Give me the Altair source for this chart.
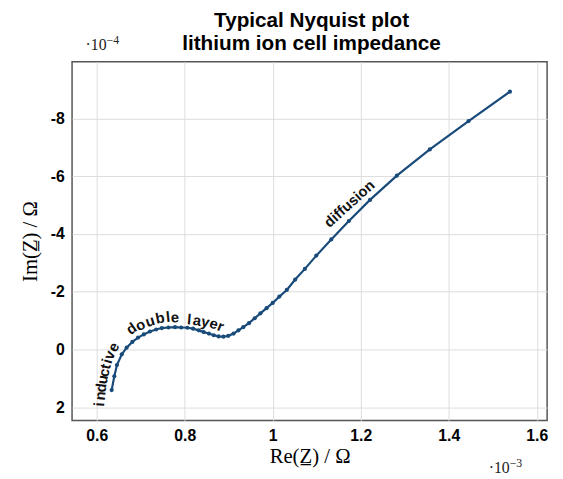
import altair as alt
import pandas as pd

# Nyquist data (Re in 1e-3 Ohm, Im in 1e-4 Ohm)
re_vals = [0.634, 0.640, 0.646, 0.657, 0.668, 0.681, 0.694, 0.707, 0.721, 0.735,
           0.748, 0.763, 0.778, 0.792, 0.806, 0.819, 0.832, 0.843, 0.855, 0.866,
           0.877, 0.888, 0.899, 0.911, 0.922, 0.933, 0.946, 0.959, 0.972, 0.986,
           1.000, 1.015, 1.032, 1.051, 1.073, 1.099, 1.133, 1.173, 1.221, 1.282,
           1.357, 1.445, 1.539]
im_vals = [1.41, 0.93, 0.54, 0.17, -0.06, -0.26, -0.41, -0.52, -0.62, -0.69,
           -0.74, -0.76, -0.77, -0.76, -0.75, -0.72, -0.66, -0.60, -0.55, -0.49,
           -0.45, -0.44, -0.47, -0.55, -0.66, -0.77, -0.91, -1.08, -1.25, -1.43,
           -1.61, -1.83, -2.06, -2.42, -2.79, -3.25, -3.81, -4.45, -5.18, -6.02,
           -6.93, -7.91, -8.93]

x_ticks = [0.6, 0.8, 1.0, 1.2, 1.4, 1.6]
y_ticks = [-8, -6, -4, -2, 0, 2]

title_lines = ["Typical Nyquist plot", "lithium ion cell impedance"]
exp_base = ["\u00b710", "\u00b710"]
exp_pow = ["\u22124", "\u22123"]

# curved annotation letters
ind_chars = list("inductive")
ind_x = [0.6056, 0.6078, 0.6101, 0.6134, 0.6168, 0.6202, 0.6235, 0.6291, 0.6381]
ind_y = [1.90, 1.61, 1.33, 1.05, 0.80, 0.59, 0.41, 0.20, -0.08]
ind_a = [-86, -85, -84, -82, -80, -77, -74, -68, -62]

dl_chars = list("double layer")
dl_x = [0.679, 0.699, 0.721, 0.744, 0.762, 0.778, 0.794, 0.810, 0.828, 0.847, 0.866, 0.882]
dl_y = [-0.72, -0.84, -0.98, -1.09, -1.13, -1.11, -1.07, -1.04, -1.00, -0.95, -0.89, -0.80]
dl_a = [-35, -27, -18, -11, -6, -2, 2, 5, 9, 13, 17, 21]

diff_text = ["diffusion"]
diff_x = [1.174]
diff_y = [-5.05]

LINE = "#184a7a"
df = pd.DataFrame({"re": re_vals, "im": im_vals, "i": list(range(len(re_vals)))})

xs = alt.Scale(domain=[0.544, 1.6235], nice=False, zero=False)
ys = alt.Scale(domain=[-9.97, 2.46], nice=False, zero=False, reverse=True)

x_axis = alt.Axis(values=x_ticks, title="Re(Z\u0332) / \u03a9", labelExpr="datum.value + ''",
                  labelPadding=7, titlePadding=3)
y_axis = alt.Axis(values=y_ticks, title="Im(Z\u0332) / \u03a9", labelExpr="datum.value + ''",
                  labelPadding=8, titlePadding=10)

base = alt.Chart(df).encode(
    x=alt.X("re:Q", scale=xs, axis=x_axis),
    y=alt.Y("im:Q", scale=ys, axis=y_axis),
    order="i:Q",
)
line = base.mark_line(color=LINE, strokeWidth=2.2)
pts = base.mark_circle(color=LINE, size=18, opacity=1)

def letters(chars, xv, yv, av, size=15):
    d = pd.DataFrame({"c": chars, "x": xv, "y": yv, "a": av})
    layers = []
    for _, r in d.iterrows():
        layers.append(
            alt.Chart(pd.DataFrame([r])).mark_text(
                font="Liberation Sans", fontWeight="bold", fontSize=size, color="#111",
                angle=float(r["a"] % 360), baseline="middle", align="center"
            ).encode(x=alt.X("x:Q", scale=xs), y=alt.Y("y:Q", scale=ys), text="c:N")
        )
    return layers

ind_layers = letters(ind_chars, ind_x, ind_y, ind_a)
dl_layers = letters(dl_chars, dl_x, dl_y, dl_a)
diff = alt.Chart(pd.DataFrame({"t": diff_text, "x": diff_x, "y": diff_y})).mark_text(
    font="Liberation Sans", fontWeight="bold", fontSize=15, color="#111", angle=318,
    baseline="middle", align="center"
).encode(x=alt.X("x:Q", scale=xs), y=alt.Y("y:Q", scale=ys), text="t:N")

def txt(s, x, y, size, font="Liberation Sans", weight="bold", align="center", color="black"):
    return alt.Chart(pd.DataFrame({"t": [s]})).mark_text(
        font=font, fontWeight=weight, fontSize=size, color=color,
        align=align, baseline="alphabetic"
    ).encode(text="t:N", x=alt.value(x), y=alt.value(y))

t1 = txt(title_lines[0], 243, -35, 21)
t2 = txt(title_lines[1], 243, -12, 21)

e4a = txt(exp_base[0], 35, -12, 16, font="Liberation Serif", weight="normal", align="right", color="#222")
e4b = txt(exp_pow[0], 35, -18, 12, font="Liberation Serif", weight="normal", align="left", color="#222")
e3a = txt(exp_base[1], 444, 417, 16, font="Liberation Serif", weight="normal", align="right", color="#222")
e3b = txt(exp_pow[1], 444, 411, 12, font="Liberation Serif", weight="normal", align="left", color="#222")

chart = alt.layer(line, pts, *ind_layers, *dl_layers, diff, t1, t2, e4a, e4b, e3a, e3b).properties(
    width=482, height=364,
    autosize=alt.AutoSizeParams(type="none"),
    padding={"left": 65, "top": 51, "right": 8, "bottom": 56},
).configure_view(stroke="#555", strokeWidth=1.5).configure_axis(
    grid=True, gridColor="#dcdcdc", gridWidth=1, ticks=False, domain=False,
    labelFont="Liberation Sans", labelFontSize=16, labelFontWeight="bold", labelColor="black",
    titleFont="Liberation Serif", titleFontSize=21, titleFontWeight="normal", titleColor="black",
)

chart.save("out.html", embed_options={"renderer": "svg", "actions": False})
